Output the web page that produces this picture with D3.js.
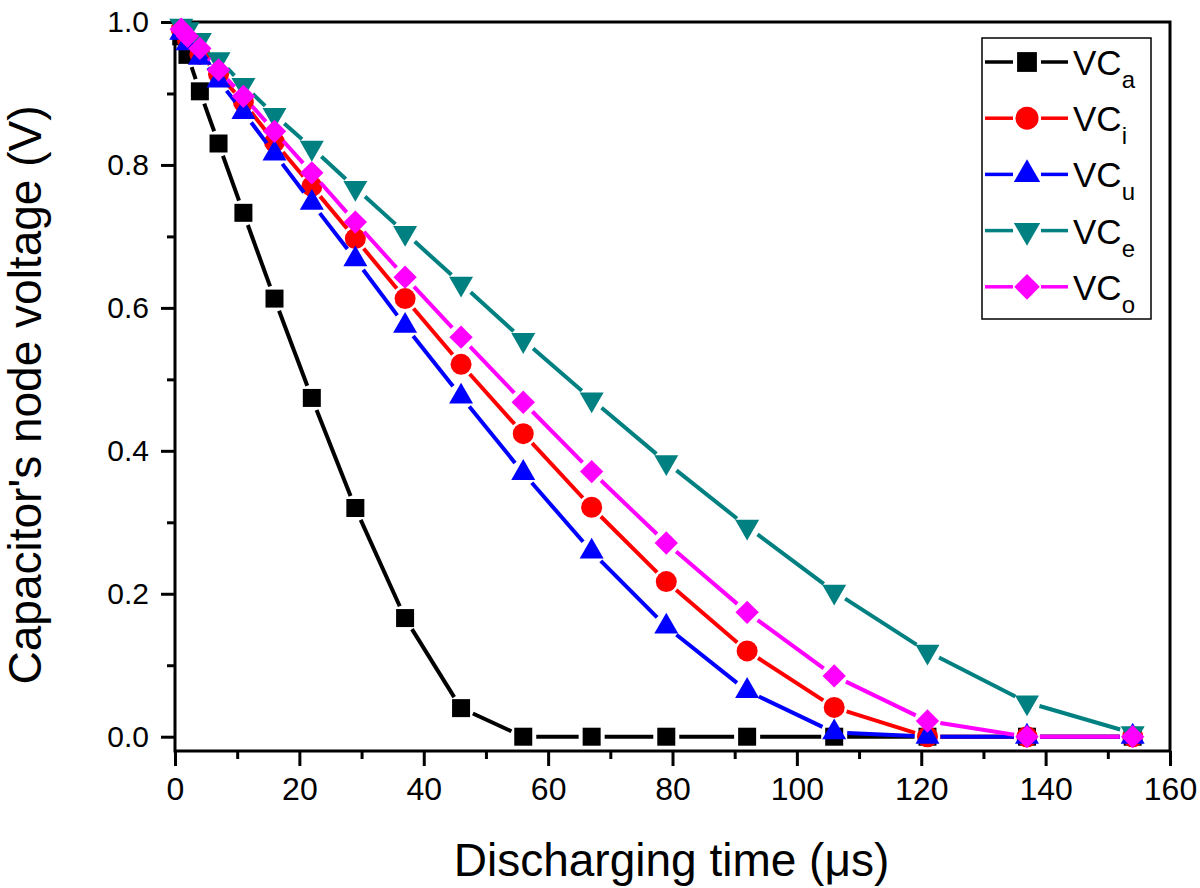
<!DOCTYPE html>
<html>
<head>
<meta charset="utf-8">
<script src="https://cdn.jsdelivr.net/npm/d3@7"></script>
<style>
  html, body { margin: 0; padding: 0; background: #fff; }
  svg { display: block; font-family: "Liberation Sans", Arial, Helvetica, sans-serif; }
</style>
</head>
<body>
<svg id="chart" width="1200" height="888"></svg>
<script>
// ---------------- data ----------------
const times = [1, 2, 4, 7, 11, 16, 22, 29, 37, 46, 56, 67, 79, 92, 106, 121, 137, 154];
const vcA = [0.98, 0.954, 0.903, 0.83, 0.733, 0.613, 0.474, 0.32, 0.166, 0.04, 0, 0, 0, 0, 0, 0, 0, 0];
const vcI = [0.99, 0.975, 0.955, 0.927, 0.888, 0.832, 0.77, 0.697, 0.613, 0.521, 0.424, 0.321, 0.217, 0.12, 0.041, 0, 0, 0];
const vcU = [0.985, 0.97, 0.95, 0.918, 0.874, 0.816, 0.747, 0.668, 0.575, 0.476, 0.369, 0.259, 0.154, 0.064, 0.006, 0, 0, 0];
const vcE = [0.995, 0.99, 0.975, 0.948, 0.912, 0.87, 0.824, 0.768, 0.705, 0.634, 0.555, 0.472, 0.384, 0.294, 0.203, 0.119, 0.048, 0.005];
const vcO = [0.99, 0.98, 0.963, 0.933, 0.896, 0.847, 0.789, 0.72, 0.643, 0.559, 0.468, 0.371, 0.271, 0.174, 0.085, 0.022, 0, 0];

const seriesSubs = ["a", "i", "u", "e", "o"];
const seriesValues = [vcA, vcI, vcU, vcE, vcO];
const seriesColors = ["#000000", "#ff0000", "#0000ff", "#008080", "#ff00ff"];
const seriesShapes = ["square", "circle", "triangleUp", "triangleDown", "diamond"];

const xTicksMajor = [0, 20, 40, 60, 80, 100, 120, 140, 160];
const xTicksMinor = [10, 30, 50, 70, 90, 110, 130, 150];
const yTicksMajor = [0, 0.2, 0.4, 0.6, 0.8, 1.0];
const yTicksMinor = [0.1, 0.3, 0.5, 0.7, 0.9];

const xTitle = "Discharging time (\u03bcs)";
const yTitle = "Capacitor's node voltage (V)";

// ---------------- layout ----------------
const svg = d3.select("#chart");
const L = 175, R = 1170, T = 22, B = 751;
const x = d3.scaleLinear().domain([0, 160]).range([L, R]);
const y = d3.scaleLinear().domain([-0.02, 1.0]).range([B, T]);

const axisW = 3;

// axes
const gx = svg.append("g").attr("transform", `translate(0,${B})`)
  .call(d3.axisBottom(x).tickValues(xTicksMajor).tickSize(15).tickSizeOuter(0).tickPadding(11).tickFormat(d3.format("d")));
const gxm = svg.append("g").attr("transform", `translate(0,${B})`)
  .call(d3.axisBottom(x).tickValues(xTicksMinor).tickSize(8).tickSizeOuter(0).tickFormat(""));
const gy = svg.append("g").attr("transform", `translate(${L},0)`)
  .call(d3.axisLeft(y).tickValues(yTicksMajor).tickSize(14).tickSizeOuter(0).tickPadding(12).tickFormat(d3.format(".1f")));
const gym = svg.append("g").attr("transform", `translate(${L},0)`)
  .call(d3.axisLeft(y).tickValues(yTicksMinor).tickSize(8).tickSizeOuter(0).tickFormat(""));

[gx, gxm, gy, gym].forEach(g => {
  g.select(".domain").remove();
  g.selectAll("line").attr("stroke", "#000").attr("stroke-width", axisW);
});
gx.selectAll("text").attr("font-size", 32).attr("fill", "#000").attr("font-family", "Liberation Sans, Arial, sans-serif");
gy.selectAll("text").attr("font-size", 30).attr("fill", "#000").attr("font-family", "Liberation Sans, Arial, sans-serif");

// frame
svg.append("rect").attr("x", L).attr("y", T).attr("width", R - L).attr("height", B - T)
  .attr("fill", "none").attr("stroke", "#000").attr("stroke-width", axisW);

// titles
svg.append("text").attr("x", (L + R) / 2 - 1).attr("y", 876).attr("text-anchor", "middle")
  .attr("font-size", 46).attr("fill", "#000").text(xTitle);
svg.append("text").attr("transform", "translate(41,395) rotate(-90)").attr("text-anchor", "middle")
  .attr("font-size", 46).attr("fill", "#000").text(yTitle);

// ---------------- markers ----------------
function drawMarker(g, shape, cx, cy, color, k) {
  k = k || 1;
  let sym, rot = 0, size;
  if (shape === "square") { sym = d3.symbolSquare; size = 18 * 18 * k * k; }
  else if (shape === "circle") { sym = d3.symbolCircle; size = Math.PI * 10.5 * 10.5 * k * k; }
  else if (shape === "triangleUp") { sym = d3.symbolTriangle; size = Math.sqrt(3) / 4 * 24 * 24 * k * k; }
  else if (shape === "triangleDown") { sym = d3.symbolTriangle; size = Math.sqrt(3) / 4 * 24 * 24 * k * k; rot = 180; }
  else { sym = d3.symbolSquare; size = 16.5 * 16.5 * k * k; rot = 45; }
  g.append("path")
    .attr("d", d3.symbol().type(sym).size(size)())
    .attr("transform", `translate(${cx},${cy}) rotate(${rot})`)
    .attr("fill", color);
}

const gap = 13;
const plot = svg.append("g");
seriesValues.forEach((vals, si) => {
  const color = seriesColors[si];
  const g = plot.append("g");
  const pts = times.map((t, i) => [x(t), y(vals[i])]);
  // line segments with gaps near markers
  for (let i = 0; i < pts.length - 1; i++) {
    const [x0, y0] = pts[i], [x1, y1] = pts[i + 1];
    const dx = x1 - x0, dy = y1 - y0, d = Math.hypot(dx, dy);
    if (d <= 2 * gap + 1) continue;
    const ux = dx / d, uy = dy / d;
    g.append("line")
      .attr("x1", x0 + ux * gap).attr("y1", y0 + uy * gap)
      .attr("x2", x1 - ux * gap).attr("y2", y1 - uy * gap)
      .attr("stroke", color).attr("stroke-width", 4);
  }
  pts.forEach(p => drawMarker(g, seriesShapes[si], p[0], p[1], color));
});

// ---------------- legend ----------------
const lg = svg.append("g");
lg.append("rect").attr("x", 982).attr("y", 38).attr("width", 169).attr("height", 281)
  .attr("fill", "#fff").attr("stroke", "#000").attr("stroke-width", 1.5);
seriesSubs.forEach((sub, i) => {
  const cy = 62 + i * 56.2;
  const color = seriesColors[i];
  lg.append("line").attr("x1", 985).attr("x2", 1013).attr("y1", cy).attr("y2", cy)
    .attr("stroke", color).attr("stroke-width", 3.5);
  lg.append("line").attr("x1", 1041).attr("x2", 1068).attr("y1", cy).attr("y2", cy)
    .attr("stroke", color).attr("stroke-width", 3.5);
  drawMarker(lg, seriesShapes[i], 1027, cy, color, 1.1);
  const t = lg.append("text").attr("x", 1073).attr("y", cy + 13).attr("font-size", 35).attr("fill", "#000");
  t.append("tspan").text("VC");
  t.append("tspan").attr("dy", 13).attr("font-size", 24).text(sub);
});
</script>
</body>
</html>
